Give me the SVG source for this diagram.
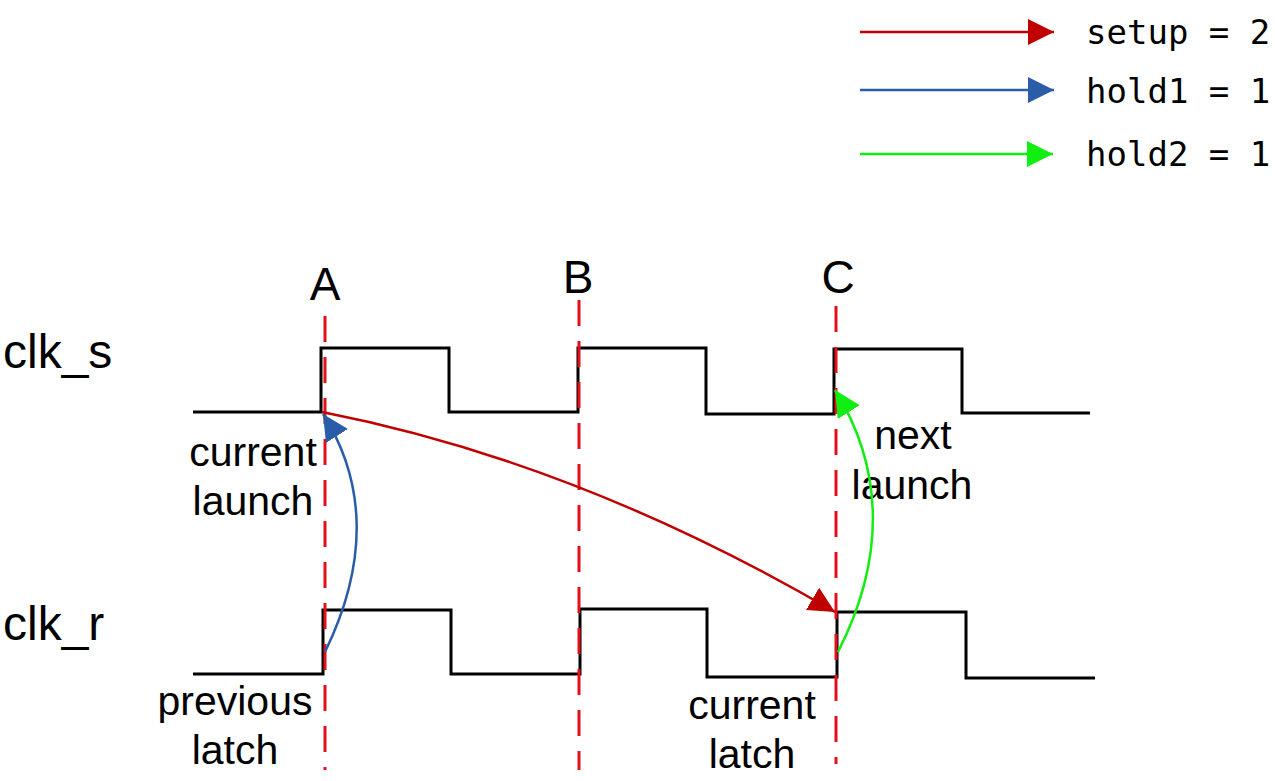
<svg xmlns="http://www.w3.org/2000/svg" width="1275" height="781" viewBox="0 0 1275 781">
<style>
.wave{fill:none;stroke:#000;stroke-width:3;stroke-linejoin:miter}
.guide{fill:none;stroke:#e3101a;stroke-width:3;stroke-dasharray:26 15}
.lbl{font-family:"Liberation Sans",Arial,sans-serif;fill:#000}
.leg{font-family:"DejaVu Sans Mono","Liberation Mono",monospace;font-size:34px;fill:#000}
.red{fill:none;stroke:#c00000;stroke-width:2.5}
.blue{fill:none;stroke:#2a5ca8;stroke-width:2.5}
.green{fill:none;stroke:#11ee11;stroke-width:2.5}
</style>
<defs>
<marker id="ahRed" markerUnits="userSpaceOnUse" markerWidth="26" markerHeight="26" refX="26" refY="13" orient="auto"><path d="M0,0 L26,13 L0,26 z" fill="#c00000"/></marker>
<marker id="ahBlue" markerUnits="userSpaceOnUse" markerWidth="26" markerHeight="26" refX="26" refY="13" orient="auto"><path d="M0,0 L26,13 L0,26 z" fill="#2a5ca8"/></marker>
<marker id="ahGreen" markerUnits="userSpaceOnUse" markerWidth="26" markerHeight="26" refX="26" refY="13" orient="auto"><path d="M0,0 L26,13 L0,26 z" fill="#11ee11"/></marker>
</defs>
<rect width="1275" height="781" fill="#fff"/>
<g id="legend">
<path class="red" d="M860,32 H1054" marker-end="url(#ahRed)"/>
<text class="leg" x="1086" y="44">setup = 2</text>
<path class="blue" d="M860,90 H1054" marker-end="url(#ahBlue)"/>
<text class="leg" x="1086" y="103">hold1 = 1</text>
<path class="green" d="M860,154 H1053" marker-end="url(#ahGreen)"/>
<text class="leg" x="1086" y="166">hold2 = 1</text>
</g>
<g id="clk_s">
<text class="lbl" x="3" y="368" font-size="48">clk_s</text>
<path class="wave" d="M193,412 H321 V348 H449 V412 H578 V348 H706 V414 H834 V349 H962 V413 H1090"/>
</g>
<g id="clk_r">
<text class="lbl" x="3" y="640" font-size="48">clk_r</text>
<path class="wave" d="M193,674 H323 V610 H451 V674 H580 V609 H707 V677 H837 V612 H966 V678 H1095"/>
</g>
<g id="markers">
<text class="lbl" x="325" y="300" font-size="46" text-anchor="middle">A</text>
<text class="lbl" x="578" y="293" font-size="46" text-anchor="middle">B</text>
<text class="lbl" x="838" y="293" font-size="46" text-anchor="middle">C</text>
<path class="guide" d="M325,316 V770"/>
<path class="guide" d="M579,300 V770"/>
<path class="guide" d="M836,306 V764"/>
</g>
<g id="labels">
<text class="lbl" x="253" y="466" font-size="41" text-anchor="middle">current</text>
<text class="lbl" x="253" y="515" font-size="41" text-anchor="middle">launch</text>
<text class="lbl" x="235" y="715" font-size="41" text-anchor="middle">previous</text>
<text class="lbl" x="235" y="764" font-size="41" text-anchor="middle">latch</text>
<text class="lbl" x="752" y="719" font-size="41" text-anchor="middle">current</text>
<text class="lbl" x="752" y="768" font-size="41" text-anchor="middle">latch</text>
<text class="lbl" x="913" y="449" font-size="41" text-anchor="middle">next</text>
<text class="lbl" x="912" y="499" font-size="41" text-anchor="middle">launch</text>
</g>
<g id="connectors">
<path class="red" d="M322,412 Q578,462 835,612" marker-end="url(#ahRed)"/>
<path class="blue" d="M325,652 C370,560 365,480 323,414" marker-end="url(#ahBlue)"/>
<path class="green" d="M838,652 C885,560 885,470 835,390" marker-end="url(#ahGreen)"/>
</g>
</svg>
